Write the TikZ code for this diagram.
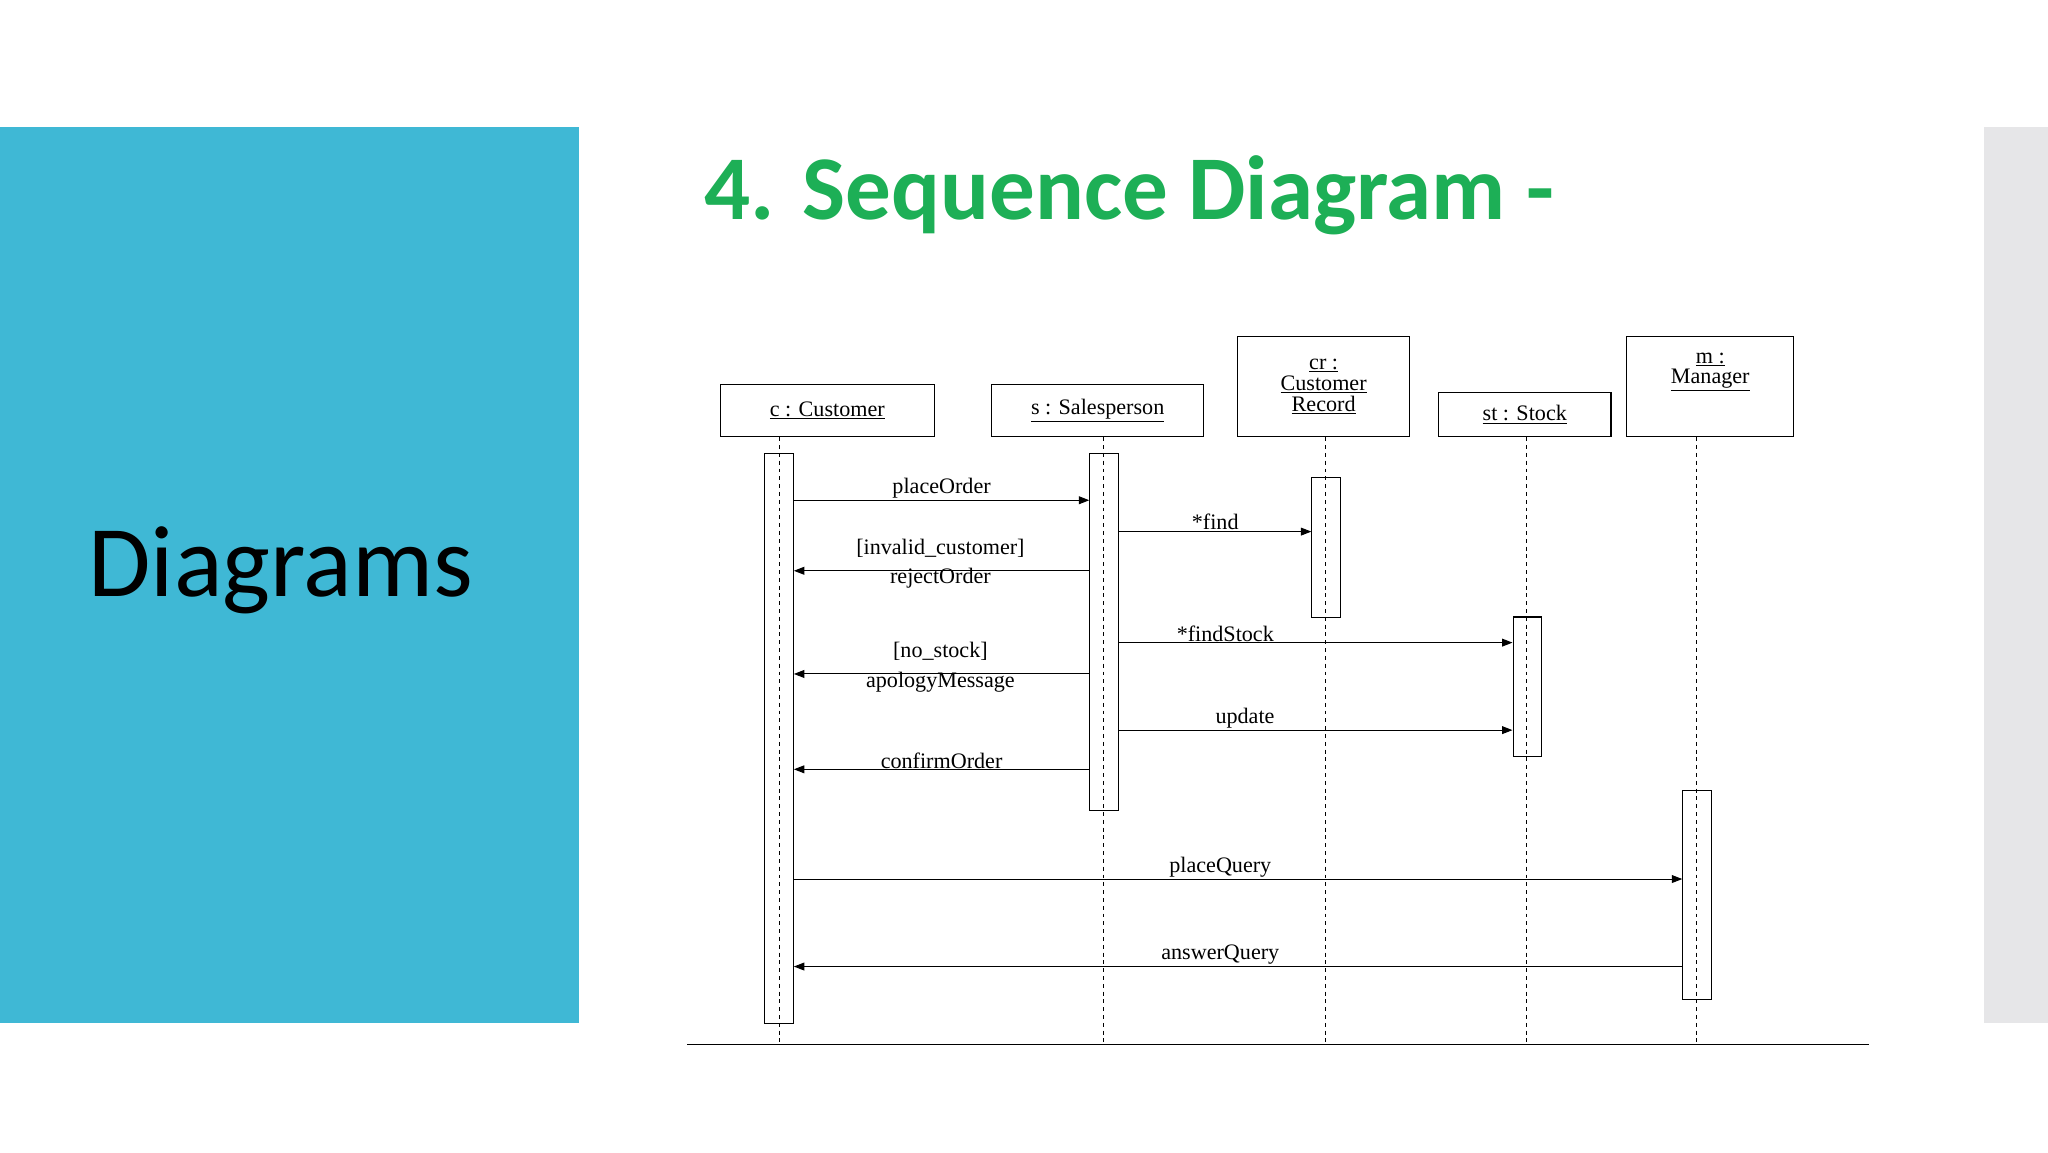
\documentclass[tikz,border=0pt]{standalone}
\usepackage{fontspec}
\setmainfont{Liberation Serif}
\newfontfamily\slide{Carlito}
\usetikzlibrary{arrows.meta}
\definecolor{sblue}{HTML}{3FB8D5}
\definecolor{sgreen}{HTML}{1DAF56}
\definecolor{sgray}{HTML}{E6E6E8}
\begin{document}
\begin{tikzpicture}[x=1bp,y=-1bp,
 obj/.style={draw,thick,inner sep=0,align=center,font=\fontsize{17}{18}\selectfont,anchor=north west},
 act/.style={draw,thick,fill=white,anchor=north west,inner sep=0},
 life/.style={dashed,thick},
 msg/.style={thick,-{Triangle[length=8bp,width=6bp]}},
 lab/.style={font=\fontsize{17}{18}\selectfont,inner sep=1bp}]
\useasboundingbox (0,0) rectangle (1568,882);
\fill[white] (0,0) rectangle (1568,882);
\fill[sblue] (0,97) rectangle (443,783);
\fill[sgray] (1519,97) rectangle (1568,783);
\node[font=\slide\fontsize{78}{80}\selectfont] (t1) at (215,437) {Diagrams};
\node[font=\slide\bfseries\fontsize{70}{72}\selectfont,text=sgreen,anchor=base west] (t2) at (536,168) {4. Sequence Diagram -};
% objects
\node[obj,minimum width=164bp,minimum height=40bp] (c) at (551,294) {\underline{c : Customer}};
\node[obj,minimum width=162bp,minimum height=40bp] (s) at (759,294) {\underline{s : Salesperson}};
\node[obj,minimum width=132bp,minimum height=77bp] (cr) at (947,257) {\underline{cr :}\\[-2bp]\underline{Customer}\\[-2bp]\underline{Record}};
\node[obj,minimum width=132bp,minimum height=34bp] (st) at (1101,300) {\underline{st : Stock}};
\node[obj,minimum width=128bp,minimum height=77bp] (m) at (1245,257) {\underline{m :}\\[-2bp]\underline{Manager}\\[10bp]};
% activations
\node[act,minimum width=22bp,minimum height=436bp] (ac) at (585,347) {};
\node[act,minimum width=22bp,minimum height=273bp] (as) at (834,347) {};
\node[act,minimum width=22bp,minimum height=107bp] (acr) at (1004,365) {};
\node[act,minimum width=22bp,minimum height=107bp] (ast) at (1158,472) {};
\node[act,minimum width=22bp,minimum height=160bp] (am) at (1288,605) {};
% lifelines
\foreach \n/\x in {c/597,s/845,cr/1015,st/1169,m/1299}{
 \coordinate (e\n) at (\x,800);
 \draw[life] (\n.south -| e\n) -- (e\n);}
\coordinate (bl) at (526,800); \coordinate (br) at (1431,800);
\draw[thick] (bl) -- (br);
% messages
\draw[msg] (ac.east |- 0,383) -- node[lab,above]{placeOrder} (as.west |- 0,383);
\draw[msg] (as.east |- 0,407) -- node[lab,above]{*find} (acr.west |- 0,407);
\draw[msg] (as.west |- 0,437) -- (ac.east |- 0,437);
\node[lab] (l1) at (720,420) {[invalid\_customer]};
\node[lab] (l2) at (720,443) {rejectOrder};
\draw[msg] (as.east |- 0,492) -- node[lab,above,pos=0.27,inner sep=0bp]{*findStock} (ast.west |- 0,492);
\draw[msg] (as.west |- 0,516) -- (ac.east |- 0,516);
\node[lab] (l3) at (720,499) {[no\_stock]};
\node[lab] (l4) at (720,522) {apologyMessage};
\draw[msg] (as.east |- 0,559) -- node[lab,above,pos=0.32]{update} (ast.west |- 0,559);
\draw[msg] (as.west |- 0,589) -- node[lab,above,inner sep=0bp]{confirmOrder} (ac.east |- 0,589);
\draw[msg] (ac.east |- 0,673) -- node[lab,above,pos=0.48]{placeQuery} (am.west |- 0,673);
\draw[msg] (am.west |- 0,740) -- node[lab,above,pos=0.52]{answerQuery} (ac.east |- 0,740);
\end{tikzpicture}
\end{document}
